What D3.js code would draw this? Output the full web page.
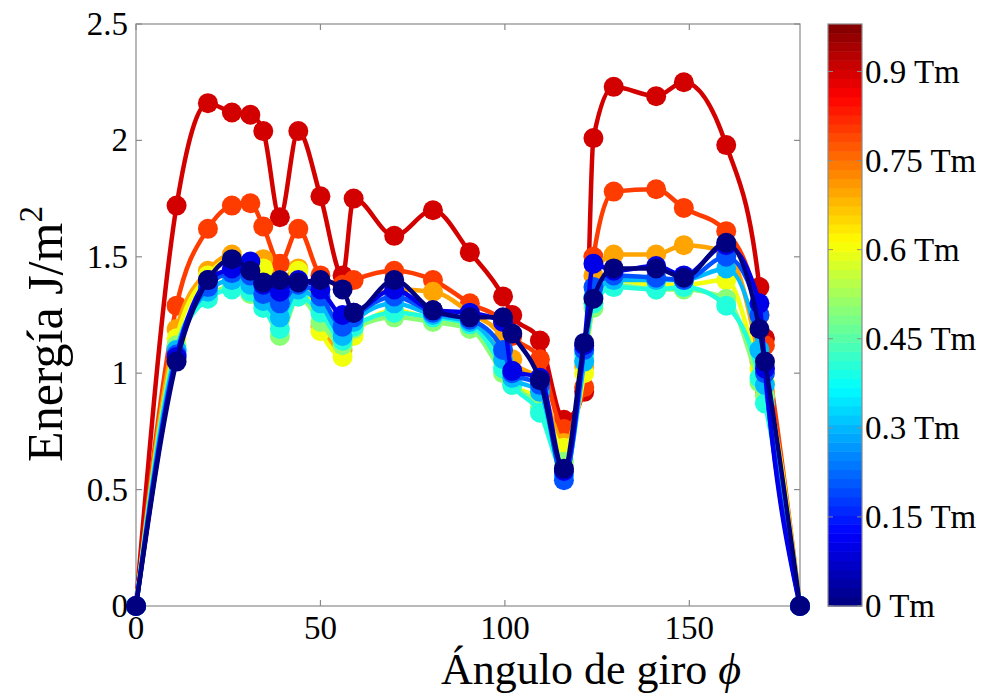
<!DOCTYPE html>
<html>
<head>
<meta charset="utf-8">
<script src="https://cdn.jsdelivr.net/npm/d3@7"></script>
<style>
  html, body { margin: 0; padding: 0; background: #fff; }
  svg { display: block; }
</style>
</head>
<body>
<svg id="chart" width="984" height="698"></svg>
<script>
// Rotation angle (degrees) at which each energy was evaluated
const angles = [0, 11, 19.5, 26, 31, 34.5, 39, 44, 50, 56, 59, 70, 80.5, 90.5, 99.5, 102, 109.5, 116, 121.5, 124, 129.5, 141, 148.5, 160, 169, 170.5, 180];

// Energy (J/m^2) for each applied field, one array per field
const e90 = [0, 1.72, 2.16, 2.12, 2.11, 2.04, 1.67, 2.04, 1.76, 1.42, 1.75, 1.59, 1.70, 1.52, 1.33, 1.25, 1.14, 0.80, 0.92, 2.01, 2.23, 2.19, 2.25, 1.98, 1.37, 1.15, 0];
const e80 = [0, 1.29, 1.62, 1.72, 1.73, 1.63, 1.47, 1.62, 1.42, 1.38, 1.40, 1.44, 1.40, 1.30, 1.22, 1.16, 1.06, 0.76, 0.94, 1.50, 1.78, 1.79, 1.71, 1.61, 1.25, 1.12, 0];
const e70 = [0, 1.19, 1.44, 1.51, 1.47, 1.49, 1.40, 1.45, 1.20, 1.10, 1.20, 1.36, 1.35, 1.26, 1.15, 1.06, 0.96, 0.70, 1.03, 1.42, 1.51, 1.51, 1.55, 1.52, 1.05, 0.92, 0];
const e60 = [0, 1.15, 1.42, 1.49, 1.45, 1.45, 1.35, 1.44, 1.18, 1.07, 1.16, 1.27, 1.23, 1.20, 1.05, 0.96, 0.88, 0.68, 1.00, 1.30, 1.40, 1.38, 1.38, 1.40, 1.02, 0.96, 0];
const e50 = [0, 1.12, 1.33, 1.37, 1.34, 1.30, 1.16, 1.33, 1.22, 1.12, 1.19, 1.24, 1.22, 1.19, 1.00, 0.95, 0.85, 0.62, 1.05, 1.28, 1.38, 1.36, 1.36, 1.32, 0.96, 0.90, 0];
const e40 = [0, 1.10, 1.32, 1.36, 1.35, 1.28, 1.19, 1.33, 1.26, 1.14, 1.20, 1.26, 1.24, 1.21, 1.02, 0.95, 0.83, 0.58, 1.08, 1.30, 1.37, 1.36, 1.37, 1.29, 0.98, 0.87, 0];
const e30 = [0, 1.10, 1.35, 1.40, 1.38, 1.31, 1.24, 1.36, 1.30, 1.16, 1.22, 1.30, 1.25, 1.22, 1.06, 0.98, 0.92, 0.56, 1.05, 1.33, 1.40, 1.40, 1.40, 1.45, 1.10, 0.95, 0];
const e20 = [0, 1.08, 1.37, 1.43, 1.42, 1.34, 1.30, 1.38, 1.33, 1.20, 1.24, 1.33, 1.26, 1.23, 1.10, 1.00, 0.95, 0.54, 1.10, 1.37, 1.42, 1.41, 1.40, 1.50, 1.25, 1.00, 0];
const e10 = [0, 1.07, 1.40, 1.45, 1.48, 1.38, 1.35, 1.40, 1.36, 1.25, 1.26, 1.36, 1.27, 1.26, 1.22, 1.01, 0.98, 0.58, 1.12, 1.47, 1.44, 1.46, 1.42, 1.55, 1.30, 1.02, 0];
const e00 = [0, 1.05, 1.40, 1.49, 1.44, 1.39, 1.40, 1.39, 1.40, 1.36, 1.26, 1.40, 1.27, 1.24, 1.24, 1.17, 0.97, 0.59, 1.13, 1.32, 1.45, 1.45, 1.41, 1.56, 1.19, 1.05, 0];

// Field strength (Tm) of each curve, drawn strongest first so weaker fields sit on top
const fields = [0.9, 0.8, 0.7, 0.6, 0.5, 0.4, 0.3, 0.2, 0.1, 0];
const energies = [e90, e80, e70, e60, e50, e40, e30, e20, e10, e00];

// Axis ticks and colorbar ticks
const xTicks = [0, 50, 100, 150];
const yTicks = [0, 0.5, 1, 1.5, 2, 2.5];
const cbTicks = [0, 0.15, 0.3, 0.45, 0.6, 0.75, 0.9];
const fieldMax = 0.98;
const cbLevels = 64;

const serif = '"Liberation Serif", "Times New Roman", "DejaVu Serif", serif';

// Classic "jet" colormap
function jet(t) {
  const c = v => Math.max(0, Math.min(1, v));
  const r = c(1.5 - Math.abs(4 * t - 3));
  const g = c(1.5 - Math.abs(4 * t - 2));
  const b = c(1.5 - Math.abs(4 * t - 1));
  return d3.rgb(r * 255, g * 255, b * 255).formatHex();
}
const fieldColor = v => jet(v / fieldMax);

const svg = d3.select("#chart").attr("font-family", serif);
const plotLeft = 136, plotRight = 800, plotTop = 24, plotBottom = 606;
const x = d3.scaleLinear().domain([0, 180]).range([plotLeft, plotRight]);
const y = d3.scaleLinear().domain([0, 2.5]).range([plotBottom, plotTop]);
const axisColor = "#8a8a8a";
const tickLen = 6;
const fmt = d3.format("~g");

// Plot box with inward ticks on all four sides
const frame = svg.append("g");
frame.append("rect")
  .attr("x", plotLeft).attr("y", plotTop)
  .attr("width", plotRight - plotLeft).attr("height", plotBottom - plotTop)
  .attr("fill", "none").attr("stroke", axisColor).attr("stroke-width", 1.2);

xTicks.forEach(t => {
  frame.append("line").attr("x1", x(t)).attr("x2", x(t))
    .attr("y1", plotBottom).attr("y2", plotBottom - tickLen).attr("stroke", axisColor).attr("stroke-width", 1.2);
  frame.append("line").attr("x1", x(t)).attr("x2", x(t))
    .attr("y1", plotTop).attr("y2", plotTop + tickLen).attr("stroke", axisColor).attr("stroke-width", 1.2);
  frame.append("text").attr("x", x(t)).attr("y", plotBottom + 33)
    .attr("font-family", serif)
    .attr("text-anchor", "middle").attr("font-size", 33).text(fmt(t));
});
yTicks.forEach(t => {
  frame.append("line").attr("x1", plotLeft).attr("x2", plotLeft + tickLen)
    .attr("y1", y(t)).attr("y2", y(t)).attr("stroke", axisColor).attr("stroke-width", 1.2);
  frame.append("line").attr("x1", plotRight).attr("x2", plotRight - tickLen)
    .attr("y1", y(t)).attr("y2", y(t)).attr("stroke", axisColor).attr("stroke-width", 1.2);
  frame.append("text").attr("x", plotLeft - 8).attr("y", y(t) + 11)
    .attr("font-family", serif)
    .attr("text-anchor", "end").attr("font-size", 33).text(fmt(t));
});

// Axis titles
const xTitle = svg.append("text")
  .attr("x", 591).attr("y", 684)
  .attr("font-family", serif)
  .attr("text-anchor", "middle").attr("font-size", 44);
xTitle.append("tspan").text("Ángulo de giro ");
xTitle.append("tspan").attr("font-style", "italic").text("ϕ");

const yTitle = svg.append("text")
  .attr("transform", "translate(62,334) rotate(-90)")
  .attr("font-family", serif)
  .attr("text-anchor", "middle").attr("font-size", 50);
yTitle.append("tspan").text("Energía J/m");
yTitle.append("tspan").attr("dy", -20).attr("font-size", 33).text("2");

// Curves with circular markers
const line = d3.line()
  .x((d, i) => x(angles[i]))
  .y(d => y(d))
  .curve(d3.curveMonotoneX);

const plot = svg.append("g");
fields.forEach((f, k) => {
  const vals = energies[k];
  const col = fieldColor(f);
  const g = plot.append("g");
  g.append("path").attr("d", line(vals))
    .attr("fill", "none").attr("stroke", col).attr("stroke-width", 4.5)
    .attr("stroke-linejoin", "round");
  g.selectAll("circle").data(vals).join("circle")
    .attr("cx", (d, i) => x(angles[i]))
    .attr("cy", d => y(d))
    .attr("r", 10)
    .attr("fill", col);
});

// Colorbar
const cbX = 828, cbW = 34;
const cy = d3.scaleLinear().domain([0, fieldMax]).range([plotBottom, plotTop]);
const cb = svg.append("g");
const levels = d3.range(cbLevels);
cb.selectAll("rect.band").data(levels).join("rect")
  .attr("class", "band")
  .attr("x", cbX)
  .attr("y", i => cy((i + 1) * fieldMax / cbLevels))
  .attr("width", cbW)
  .attr("height", i => cy(i * fieldMax / cbLevels) - cy((i + 1) * fieldMax / cbLevels) + 0.5)
  .attr("fill", i => jet((i + 0.5) / cbLevels));
cb.append("rect")
  .attr("x", cbX).attr("y", plotTop).attr("width", cbW).attr("height", plotBottom - plotTop)
  .attr("fill", "none").attr("stroke", axisColor).attr("stroke-width", 1.2);
cbTicks.forEach(t => {
  cb.append("line").attr("x1", cbX).attr("x2", cbX + 5)
    .attr("y1", cy(t)).attr("y2", cy(t)).attr("stroke", axisColor).attr("stroke-width", 1);
  cb.append("line").attr("x1", cbX + cbW).attr("x2", cbX + cbW - 5)
    .attr("y1", cy(t)).attr("y2", cy(t)).attr("stroke", axisColor).attr("stroke-width", 1);
  cb.append("text").attr("x", cbX + cbW + 3).attr("y", cy(t) + 11)
    .attr("font-family", serif)
    .attr("font-size", 33).text(fmt(t) + " Tm");
});
</script>
</body>
</html>
